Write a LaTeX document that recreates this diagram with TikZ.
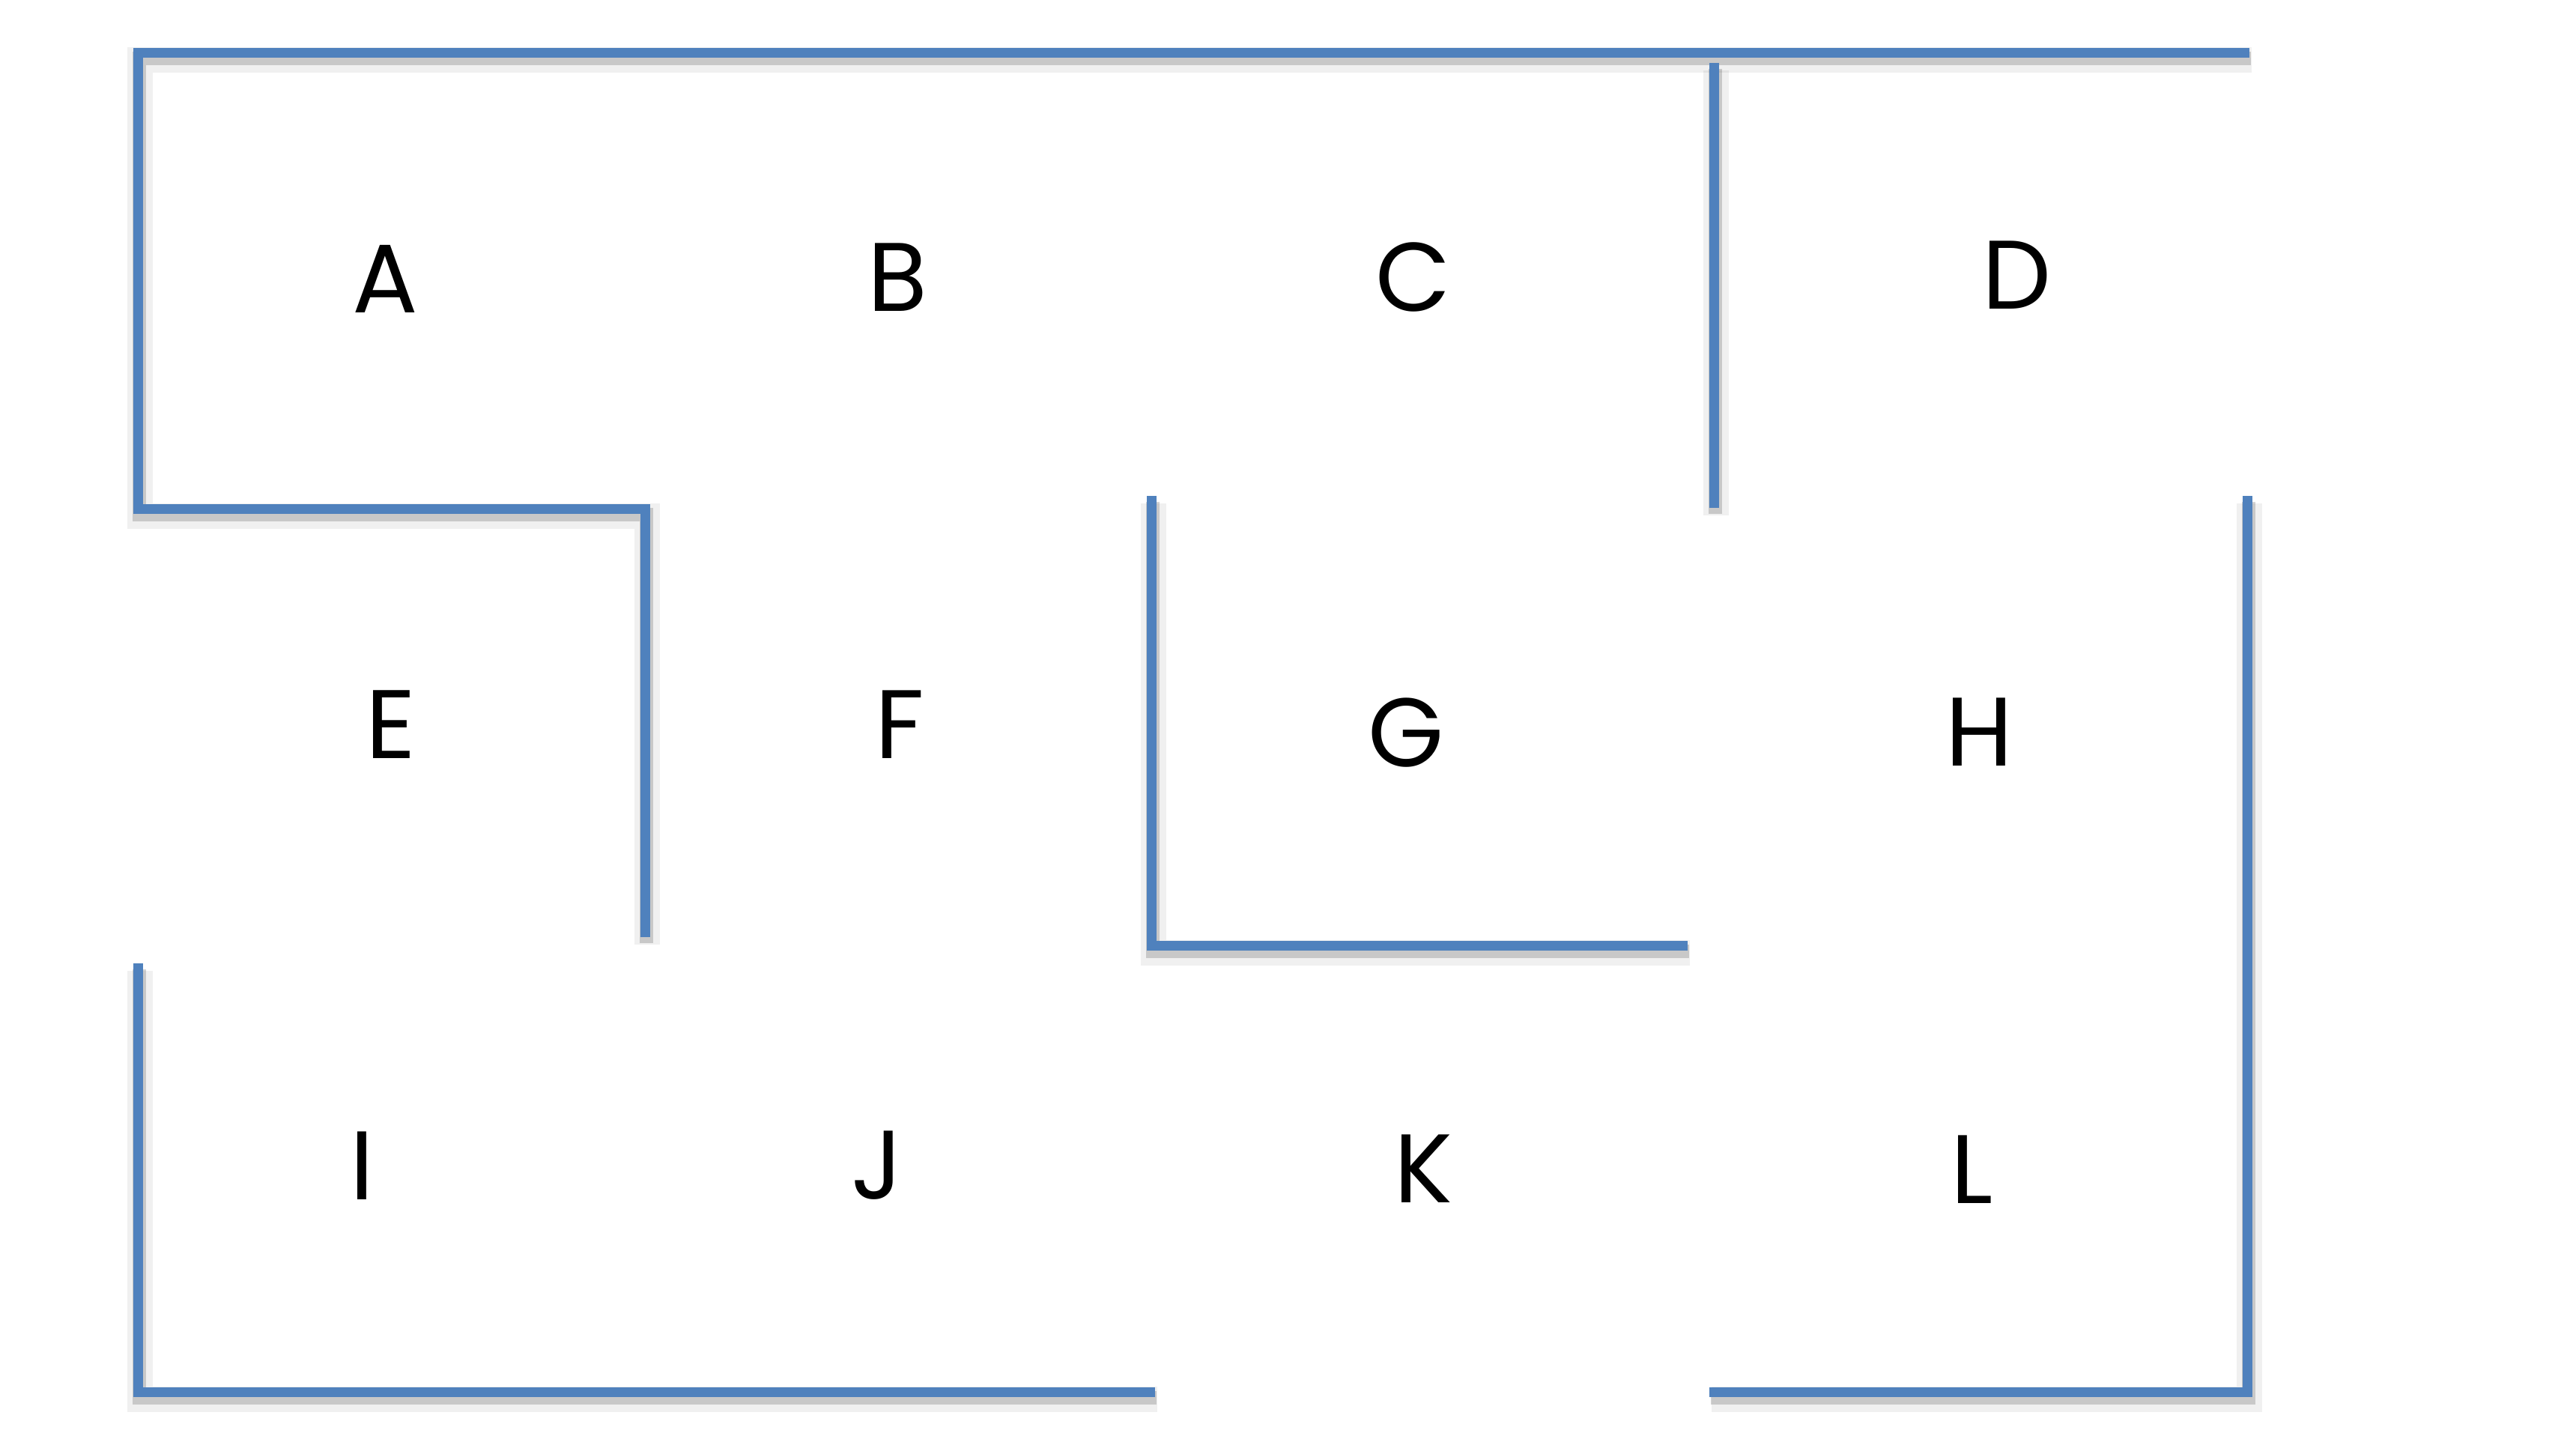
\documentclass[tikz,border=0pt]{standalone}
\usepackage{fontspec}
\setmainfont{Poppins}
\definecolor{wallblue}{RGB}{79,129,189}

\begin{document}
\begin{tikzpicture}[x=1cm,y=-1cm,
		wall/.style={draw=wallblue,line width=0.13cm,
			preaction={draw=black,opacity=0.06,line width=0.34cm,transform canvas={shift={(0.03cm,-0.10cm)}}},
			preaction={draw=black,opacity=0.17,line width=0.18cm,transform canvas={shift={(0.02cm,-0.08cm)}}}},
		room/.style={font=\fontsize{37}{44}\selectfont,inner sep=0pt}]
		\useasboundingbox (0,0) rectangle (34.39,19.36);
		% walls
		\draw[wall] (8.61,12.51) -- (8.61,6.79) -- (1.84,6.79) -- (1.84,0.70) -- (30.03,0.70);
		\draw[wall] (22.88,0.84) -- (22.88,6.78);
		\draw[wall] (15.37,6.62) -- (15.37,12.62) -- (22.53,12.62);
		\draw[wall] (22.82,18.58) -- (30.00,18.58) -- (30.00,6.62);
		\draw[wall] (1.84,12.86) -- (1.84,18.58) -- (15.42,18.58);
		% rooms
		\node[room] (a) at (5.14,3.72) {A};
		\node[room] (b) at (11.98,3.70) {B};
		\node[room] (c) at (18.87,3.70) {C};
		\node[room] (d) at (26.92,3.67) {D};
		\node[room] (e) at (5.22,9.67) {E};
		\node[room] (f) at (12.01,9.67) {F};
		\node[room] (g) at (18.77,9.78) {G};
		\node[room] (h) at (26.42,9.77) {H};
		\node[room] (i) at (4.83,15.56) {I};
		\node[room] (j) at (11.71,15.56) {J};
		\node[room] (k) at (19.00,15.60) {K};
		\node[room] (l) at (26.33,15.61) {L};
	\end{tikzpicture}
\end{document}
